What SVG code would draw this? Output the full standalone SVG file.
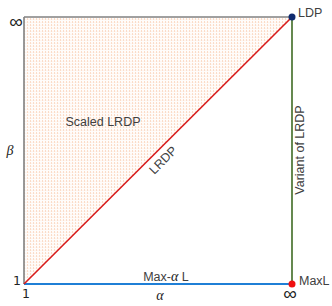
<svg xmlns="http://www.w3.org/2000/svg" width="332" height="306" viewBox="0 0 332 306">
<defs>
<pattern id="dots" width="3" height="3" patternUnits="userSpaceOnUse">
<rect width="3" height="3" fill="#fffcfa"/>
<rect x="0" y="0" width="1" height="2" fill="#fbdcc8"/>
<rect x="1.5" y="1" width="0.8" height="1" fill="#fdeee4"/>
</pattern>
</defs>
<style>
text{font-family:"Liberation Sans",Arial,sans-serif;fill:#404040;font-size:12.5px}
.sym{font-family:"DejaVu Sans","Liberation Sans",sans-serif;fill:#222}
.inf{font-family:"Liberation Sans",sans-serif;fill:#222;font-size:19px;dominant-baseline:central}
.it{font-family:"Liberation Serif","DejaVu Serif",serif;font-style:italic;font-size:14px;fill:#222}
</style>
<rect width="332" height="306" fill="#fff"/>
<g id="region">
<polygon points="24,17 292,17 24,284" fill="url(#dots)"/>
<text x="103" y="126" text-anchor="middle">Scaled LRDP</text>
</g>
<g id="connectors" fill="none">
<line x1="24" y1="17" x2="24" y2="284" stroke="#808080" stroke-width="1.6"/>
<line x1="24" y1="17" x2="292" y2="17" stroke="#808080" stroke-width="1.6"/>
<line x1="292" y1="17" x2="292" y2="284" stroke="#3f6b24" stroke-width="1.6"/>
<line x1="24" y1="284" x2="292" y2="284" stroke="#1f7fd6" stroke-width="2"/>
<line x1="24" y1="284" x2="292" y2="17" stroke="#d81c1c" stroke-width="1.6"/>
</g>
<g id="edge-labels">
<text transform="translate(163,160) rotate(-45)" text-anchor="middle" dy="0.35em">LRDP</text>
<text transform="translate(304,150) rotate(-90)" text-anchor="middle">Variant of LRDP</text>
<text x="166" y="281" text-anchor="middle">Max-<tspan class="it" font-size="13">α</tspan> L</text>
</g>
<g id="node-LDP">
<circle cx="292" cy="17" r="3.5" fill="#0f2a6e"/>
<text x="298" y="17">LDP</text>
</g>
<g id="node-MaxL">
<circle cx="292" cy="284" r="3.5" fill="#f01010"/>
<text x="299" y="285">MaxL</text>
</g>
<g id="axis-labels">
<text class="inf" x="16" y="21" text-anchor="middle">∞</text>
<text class="inf" x="290" y="293" text-anchor="middle">∞</text>
<text class="sym" x="17" y="285" text-anchor="middle" font-size="14">1</text>
<text class="sym" x="26" y="298" text-anchor="middle" font-size="14">1</text>
<text class="it" x="10" y="155" text-anchor="middle">β</text>
<text class="it" x="160" y="300" text-anchor="middle">α</text>
</g>
</svg>
